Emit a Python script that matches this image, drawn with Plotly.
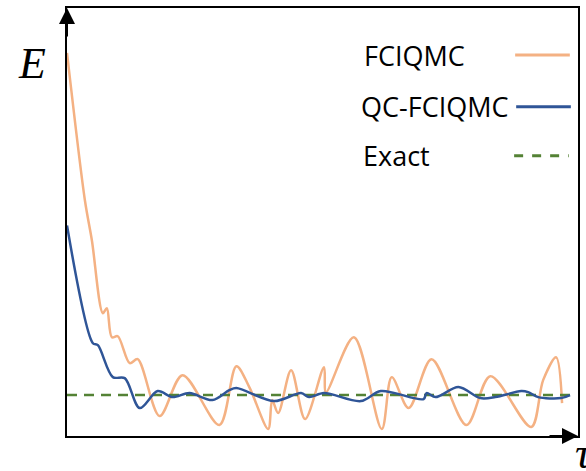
import plotly.graph_objects as go

# Values (tau in arbitrary units, E in arbitrary units)
fci_tau = [0, 18, 25, 36, 40, 45, 51, 63, 71, 93, 116, 153, 170, 183, 202, 206, 212, 225, 239, 258, 260, 288,
           316, 326, 343, 366, 401, 425, 466, 478, 491, 497]
fci_E = [384, 236, 196, 123, 128, 99, 100, 73, 77, 20, 61, 11, 70, 49, 7, 36, 23, 66, 17, 69, 44, 99,
         7, 59, 28, 77, 11, 60, 9, 56, 79, 33]

qc_tau = [0, 26, 31, 46, 58, 73, 91, 106, 123, 146, 163, 170, 208, 235, 243, 258, 295, 315, 358, 361, 370,
          393, 415, 430, 456, 463, 473, 496, 505]
qc_E = [211, 93, 91, 59, 58, 28, 45, 39, 43, 36, 46, 48, 35, 43, 39, 43, 35, 45, 37, 43, 39,
        49, 38, 39, 45, 44, 39, 38, 41]

exact_tau = [0, 505]
exact_E = [41, 41]

series_names = ["FCIQMC", "QC-FCIQMC", "Exact"]
colors = ["#F4B183", "#2F5597", "#548235"]

fig = go.Figure()
fig.add_trace(go.Scatter(x=fci_tau, y=fci_E, mode="lines", line=dict(color=colors[0], width=2.5, shape="spline", smoothing=0.9),
                         showlegend=False))
fig.add_trace(go.Scatter(x=exact_tau, y=exact_E, mode="lines", line=dict(color=colors[2], width=2.5, dash="10px,7px"),
                         showlegend=False))
fig.add_trace(go.Scatter(x=qc_tau, y=qc_E, mode="lines", line=dict(color=colors[1], width=2.5, shape="spline", smoothing=0.9),
                         showlegend=False))

axis_common = dict(showgrid=False, zeroline=False, showticklabels=False, ticks="",
                   showline=True, linecolor="black", linewidth=2, mirror=True)
fig.update_xaxes(range=[0, 513], **axis_common)
fig.update_yaxes(range=[0, 429], **axis_common)

# axis arrows
fig.add_annotation(x=0, y=1, xref="paper", yref="paper", text="", showarrow=True, ax=0, ay=30,
                   arrowhead=2, arrowsize=1.6, arrowwidth=2, arrowcolor="black")
fig.add_annotation(x=1, y=0, xref="paper", yref="paper", text="", showarrow=True, ax=-30, ay=0,
                   arrowhead=2, arrowsize=1.6, arrowwidth=2, arrowcolor="black")

# axis labels
fig.add_annotation(x=-0.099, y=0.932, xref="paper", yref="paper", text="<i>E</i>", showarrow=False,
                   font=dict(family="Liberation Serif", size=44, color="black"))
fig.add_annotation(x=0.99, y=0.021, xref="paper", yref="paper", text="<i>τ</i>", showarrow=False,
                   xanchor="left", yanchor="top", font=dict(family="Liberation Serif", size=44, color="black"))

# custom legend: text left, sample right
leg_text_x = [0.577, 0.571, 0.575]
leg_y = [0.890, 0.771, 0.655]
line_y = [0.890, 0.769, 0.655]
line_x0 = [0.877, 0.879, 0.875]
line_x1 = [0.984, 0.986, 0.982]
dashes = ["solid", "solid", "dash"]
for i, name in enumerate(series_names):
    fig.add_annotation(x=leg_text_x[i], y=leg_y[i], xref="paper", yref="paper", text=name, showarrow=False,
                       xanchor="left", yanchor="middle", font=dict(family="Open Sans", size=27, color="black"))
    fig.add_shape(type="line", xref="paper", yref="paper", x0=line_x0[i], x1=line_x1[i], y0=line_y[i], y1=line_y[i],
                  line=dict(color=colors[i], width=3, dash=dashes[i]))

fig.update_layout(width=586, height=471, margin=dict(l=67, r=6, t=7, b=35),
                  plot_bgcolor="white", paper_bgcolor="white")
fig.write_html("out.html")
